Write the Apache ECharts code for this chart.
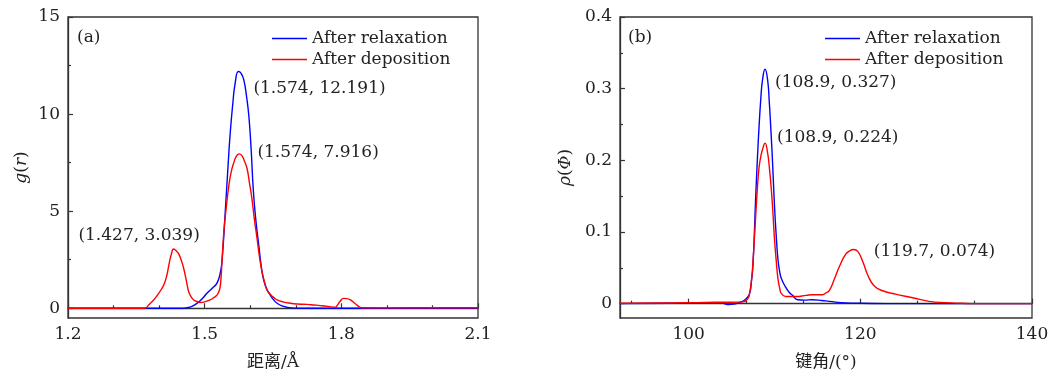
<!DOCTYPE html>
<html>
<head>
<meta charset="utf-8">
<script src="https://cdn.jsdelivr.net/npm/echarts@6/dist/echarts.min.js"></script>
<style>
  html, body { margin: 0; padding: 0; background: #fff; }
  #chart { width: 1057px; height: 376px; }
</style>
</head>
<body>
<div id="chart"></div>
<script>
// panel (a): g(r) vs distance
let relaxR = [1.2, 1.3, 1.4, 1.45, 1.461, 1.472, 1.483, 1.494, 1.505, 1.516, 1.527, 1.534, 1.538, 1.545, 1.551, 1.556, 1.562, 1.567, 1.574, 1.58, 1.586, 1.592, 1.597, 1.602, 1.607, 1.613, 1.619, 1.624, 1.629, 1.636, 1.644, 1.652, 1.659, 1.67, 1.681, 1.7, 1.75, 2.1];
let relaxG = [0, 0, 0, 0, 0.03, 0.1, 0.25, 0.48, 0.77, 1.02, 1.3, 1.8, 2.4, 4.9, 7.2, 9.0, 10.6, 11.6, 12.191, 12.1, 11.75, 10.9, 9.9, 8.2, 6.0, 4.4, 3.2, 2.2, 1.5, 1.0, 0.68, 0.42, 0.26, 0.12, 0.05, 0.01, 0, 0];
let depoR = [1.2, 1.368, 1.378, 1.388, 1.397, 1.406, 1.412, 1.417, 1.422, 1.427, 1.432, 1.438, 1.443, 1.449, 1.454, 1.46, 1.465, 1.47, 1.476, 1.483, 1.49, 1.5, 1.512, 1.52, 1.527, 1.532, 1.535, 1.538, 1.542, 1.547, 1.553, 1.558, 1.564, 1.57, 1.576, 1.582, 1.587, 1.593, 1.598, 1.604, 1.609, 1.615, 1.62, 1.626, 1.632, 1.637, 1.645, 1.652, 1.659, 1.672, 1.688, 1.705, 1.725, 1.74, 1.754, 1.77, 1.787, 1.791, 1.797, 1.805, 1.812, 1.82, 1.83, 1.838, 1.845, 1.9, 2.0, 2.1];
let depoG = [0, 0, 0.2, 0.43, 0.7, 1.02, 1.3, 1.7, 2.3, 2.8, 3.05, 2.95, 2.8, 2.45, 2.05, 1.4, 0.85, 0.6, 0.43, 0.35, 0.3, 0.33, 0.43, 0.55, 0.68, 0.9, 1.3, 2.4, 3.9, 5.1, 6.3, 7.0, 7.5, 7.85, 7.95, 7.85, 7.6, 7.2, 6.5, 5.6, 4.6, 3.6, 2.7, 1.87, 1.3, 0.94, 0.7, 0.55, 0.43, 0.33, 0.26, 0.22, 0.2, 0.17, 0.14, 0.1, 0.05, 0.15, 0.35, 0.51, 0.5, 0.43, 0.25, 0.1, 0.03, 0.02, 0.03, 0.03];

// panel (b): rho(Phi) vs bond angle
let relaxAng = [92, 98, 102, 103.2, 104, 104.7, 105.3, 105.9, 106.4, 106.7, 107.1, 107.3, 107.5, 107.8, 108.0, 108.2, 108.4, 108.6, 108.9, 109.2, 109.4, 109.6, 109.8, 110.0, 110.2, 110.4, 110.6, 110.8, 111.3, 111.7, 112.1, 112.7, 113.5, 114.4, 115.5, 116.4, 118.3, 120, 125, 140];
let relaxRho = [0, 0.0005, 0.001, 0.0015, 0.0005, -0.0013, -0.0005, 0.0015, 0.004, 0.007, 0.014, 0.03, 0.055, 0.146, 0.2, 0.247, 0.285, 0.312, 0.327, 0.312, 0.28, 0.238, 0.19, 0.136, 0.095, 0.062, 0.045, 0.035, 0.023, 0.016, 0.0116, 0.0055, 0.005, 0.0055, 0.0045, 0.0032, 0.001, 0.0005, 0, 0];
let depoAng = [92, 98, 101, 103, 105, 106.3, 106.9, 107.1, 107.3, 107.5, 107.7, 108.0, 108.2, 108.4, 108.6, 108.9, 109.2, 109.4, 109.6, 109.8, 110.0, 110.2, 110.4, 110.6, 110.8, 111.3, 112.5, 113.7, 114.4, 115.6, 116.0, 116.4, 117.0, 117.6, 118.3, 118.8, 119.2, 119.7, 120.3, 120.9, 121.6, 122.6, 124.2, 126.1, 128.0, 130.0, 131.9, 133, 140];
let depoRho = [0.0005, 0.001, 0.0015, 0.002, 0.002, 0.0025, 0.007, 0.015, 0.03, 0.06, 0.1, 0.16, 0.19, 0.205, 0.215, 0.224, 0.21, 0.19, 0.164, 0.13, 0.09, 0.06, 0.035, 0.022, 0.014, 0.01, 0.01, 0.0116, 0.0125, 0.0125, 0.015, 0.0185, 0.035, 0.053, 0.069, 0.074, 0.0755, 0.073, 0.058, 0.039, 0.025, 0.018, 0.013, 0.0083, 0.0032, 0.0014, 0.0005, 0, 0];

let rTicks = [1.2, 1.5, 1.8, 2.1];
let rMinor = [1.3, 1.4, 1.6, 1.7, 1.9, 2.0];
let gTicks = [0, 5, 10, 15];
let gMinor = [2.5, 7.5, 12.5];
let angTicks = [100, 120, 140];
let angMinor = [93.33, 106.67, 113.33, 126.67, 133.33];
let rhoTicks = [0, 0.1, 0.2, 0.3, 0.4];
let rhoMinor = [0.05, 0.15, 0.25, 0.35];

let seriesNames = ["After relaxation", "After deposition"];

function zip(xs, ys) {
  return xs.map((x, i) => [x, ys[i]]);
}

let font = "DejaVu Serif, Noto Sans CJK SC";
let fs = 17;
let axisColor = "#333";
let textColor = "#222";

function mainAxis(gridIndex, pos, min, max, ticks, extra) {
  return Object.assign({
    type: "value",
    gridIndex: gridIndex,
    position: pos,
    min: min,
    max: max,
    axisLine: { show: true, lineStyle: { color: axisColor, width: 1.3 } },
    axisTick: { show: true, inside: true, length: 5, customValues: ticks, lineStyle: { color: axisColor, width: 1.2 } },
    axisLabel: { customValues: ticks, color: textColor, fontSize: fs, fontFamily: font, margin: 8 },
    splitLine: { show: false },
  }, extra);
}

function minorAxis(gridIndex, pos, min, max, ticks) {
  return {
    type: "value",
    gridIndex: gridIndex,
    position: pos,
    offset: 0,
    min: min,
    max: max,
    axisLine: { show: false },
    axisTick: { show: true, inside: true, length: 3, customValues: ticks, lineStyle: { color: axisColor, width: 1.2 } },
    axisLabel: { show: false },
    splitLine: { show: false },
  };
}

function peak(coord, pos, text) {
  return {
    coord: coord,
    symbol: "circle",
    symbolSize: 0,
    label: {
      show: true,
      formatter: text,
      position: pos,
      align: "left",
      verticalAlign: "middle",
      color: textColor,
      fontSize: fs,
      fontFamily: font,
    },
  };
}

function legendAt(left) {
  return {
    data: seriesNames,
    orient: "vertical",
    left: left,
    top: 25,
    icon: "rect",
    itemWidth: 35,
    itemHeight: 1.6,
    itemGap: 4,
    textStyle: { color: textColor, fontSize: fs, fontFamily: font },
  };
}

function curve(name, axis, xs, ys, color, marks) {
  return {
    name: name,
    type: "line",
    xAxisIndex: axis,
    yAxisIndex: axis,
    data: zip(xs, ys),
    symbol: "none",
    smooth: 0.5,
    color: color,
    lineStyle: { width: 1.4 },
    markPoint: { data: marks },
  };
}

let italic = { i: { fontStyle: "italic", fontSize: fs, fontFamily: font, color: textColor } };

let chart = echarts.init(document.getElementById("chart"));

chart.setOption({
  animation: false,
  grid: [
    { left: 68, right: 579, top: 17, bottom: 56, show: true, borderColor: axisColor, borderWidth: 1.3 },
    { left: 620, right: 25, top: 17, bottom: 56, show: true, borderColor: axisColor, borderWidth: 1.3 },
  ],
  legend: [legendAt(267), legendAt(820)],
  xAxis: [
    mainAxis(0, "bottom", 1.2, 2.1, rTicks, {
      name: "距离/Å",
      nameLocation: "middle",
      nameGap: 36,
      nameTextStyle: { color: textColor, fontSize: fs, fontFamily: font },
    }),
    minorAxis(0, "bottom", 1.2, 2.1, rMinor),
    mainAxis(1, "bottom", 92, 140, angTicks, {
      name: "键角/(°)",
      nameLocation: "middle",
      nameGap: 36,
      nameTextStyle: { color: textColor, fontSize: fs, fontFamily: font },
    }),
    minorAxis(1, "bottom", 92, 140, angMinor),
  ],
  yAxis: [
    mainAxis(0, "left", -0.5, 15, gTicks, {
      name: "{i|g}({i|r})",
      nameLocation: "middle",
      nameGap: 38,
      nameTextStyle: { color: textColor, fontSize: fs, fontFamily: font, rich: italic },
    }),
    minorAxis(0, "left", -0.5, 15, gMinor),
    mainAxis(1, "left", -0.02, 0.4, rhoTicks, {
      name: "{i|ρ}({i|Φ})",
      nameLocation: "middle",
      nameGap: 46,
      nameTextStyle: { color: textColor, fontSize: fs, fontFamily: font, rich: italic },
    }),
    minorAxis(1, "left", -0.02, 0.4, rhoMinor),
  ],
  graphic: [
    { type: "text", left: 77, top: 29, style: { text: "(a)", fontSize: fs, fontFamily: font, fill: textColor } },
    { type: "text", left: 628, top: 29, style: { text: "(b)", fontSize: fs, fontFamily: font, fill: textColor } },
  ],
  series: [
    curve(seriesNames[0], 0, relaxR, relaxG, "#0000ff", [
      peak([1.574, 12.191], [15, 17], "(1.574, 12.191)"),
    ]),
    curve(seriesNames[1], 0, depoR, depoG, "#ff0000", [
      peak([1.574, 7.916], [19, -2], "(1.574, 7.916)"),
      peak([1.427, 3.039], [-93, -14], "(1.427, 3.039)"),
    ]),
    curve(seriesNames[0], 2, relaxAng, relaxRho, "#0000ff", [
      peak([108.9, 0.327], [10, 13], "(108.9, 0.327)"),
    ]),
    curve(seriesNames[1], 2, depoAng, depoRho, "#ff0000", [
      peak([108.9, 0.224], [12, -6], "(108.9, 0.224)"),
      peak([119.7, 0.074], [16, 1], "(119.7, 0.074)"),
    ]),
  ],
});
</script>
</body>
</html>
